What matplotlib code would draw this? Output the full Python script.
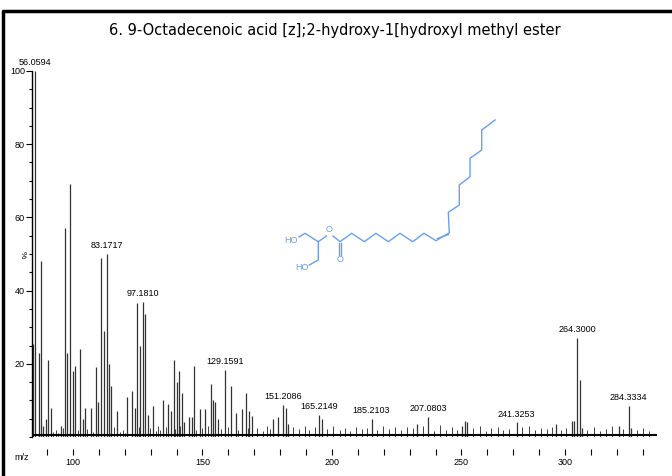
import matplotlib
matplotlib.use("Agg")
import matplotlib.pyplot as plt
from matplotlib.ticker import MultipleLocator

# ---- spectrum data (m/z in axis units, intensity %) ----
peak_mz = [84.7, 85.2, 86.8, 87.6, 88.4, 89.5, 90.5, 91.4, 95.3, 97.0, 97.8, 98.7,
           99.9, 100.7, 102.8, 104.0, 104.7, 106.8, 108.9, 109.8, 110.9, 112.0, 113.0,
           113.8, 114.8, 117.0, 121.0, 122.8, 123.8, 124.8, 126.0, 127.0, 127.8, 128.8,
           130.8, 134.9, 136.8, 137.8, 138.9, 140.0, 140.9, 142.0, 143.0, 144.8, 145.8,
           146.8, 148.9, 151.0, 153.2, 153.9, 154.9, 156.1, 158.9, 161.0, 162.9, 165.1,
           166.9, 168.1, 169.0, 177.1, 179.0, 181.1, 182.1, 183.1, 195.1, 196.1, 215.3,
           233.0, 237.2, 250.3, 251.2, 252.1, 271.3, 286.5, 292.7, 293.6, 294.6, 295.6,
           296.5, 310.7, 314.6, 315.6]
peak_int = [25.5, 100, 23, 48, 3, 5, 21, 8, 3, 57, 23, 69,
            18, 19.5, 24, 5, 8, 8, 19, 9.5, 49, 29, 50,
            20, 14, 7, 11, 12.5, 8, 36.5, 25, 37, 33.5, 6,
            8.5, 10, 9, 7, 21, 15, 18, 12, 4, 5.5, 5.5,
            19.5, 7.6, 7.7, 14.4, 10, 9.5, 5, 18.3, 14, 6.5, 7.7,
            12, 7, 5.8, 5, 5.5, 8.7, 8, 3.6, 6, 5, 5,
            3.5, 5.5, 3, 4.4, 4, 4, 3.5, 4.4, 4.4, 27.1, 15.6,
            2.5, 3, 8.5, 2.5]

# small baseline peaks
noise_mz = [92.5, 93.6, 94.2, 96.1, 101.8, 105.6, 107.7, 115.9, 118.3, 119.2, 120.1,
            125.6, 129.7, 131.9, 132.8, 133.7, 135.8, 139.5, 141.5, 147.6, 149.9, 152.1,
            157.2, 160.0, 163.8, 167.5, 171.0, 173.2, 175.0, 176.2, 185.0, 187.2, 189.5,
            191.0, 193.3, 198.0, 200.5, 203.0, 205.2, 207.1, 209.4, 211.5, 213.6, 217.4,
            219.8, 222.0, 224.5, 226.7, 229.0, 231.2, 235.0, 239.5, 241.8, 244.0, 246.5,
            248.2, 254.5, 257.0, 259.3, 261.6, 264.0, 266.2, 268.5, 273.5, 276.0, 278.4,
            280.6, 283.0, 285.0, 288.4, 290.5, 298.5, 301.0, 303.4, 305.8, 308.0, 312.5,
            317.8, 320.0, 322.4]
noise_int = [1.5, 2, 1.2, 2.5, 1.8, 2.2, 1.5, 2.6, 1.4, 2, 1.2,
             2.8, 2.4, 1.6, 3, 1.8, 2.6, 2.2, 3, 2, 2.5, 3,
             2.2, 2.8, 1.9, 2.5, 2.4, 1.6, 2.9, 2.2, 2.7, 2.1, 3,
             1.8, 2.6, 2.3, 2.9, 2, 2.5, 1.7, 2.8, 2.2, 2.4, 1.9,
             3, 2.1, 2.6, 1.8, 2.7, 2.4, 2.9, 1.7, 3.2, 2, 2.6,
             1.8, 2.5, 2.9, 1.6, 2.4, 2.7, 1.9, 2.2, 2.6, 3, 1.8,
             2.4, 2.1, 2.8, 1.9, 2.5, 2, 2.6, 1.7, 2.3, 2.9, 2.1,
             1.8, 2.4, 1.6]

label_mz = [85.2, 113.0, 127.0, 158.9, 181.1, 195.1, 215.3, 237.2, 271.3, 294.6, 314.6]
label_int = [100, 50, 37, 18.3, 8.7, 6, 5, 5.5, 4, 27.1, 8.5]
label_txt = ["56.0594", "83.1717", "97.1810", "129.1591", "151.2086", "165.2149",
             "185.2103", "207.0803", "241.3253", "264.3000", "284.3334"]

tick_pos = [100, 150, 200, 250, 290]
tick_lab = ["100", "150", "200", "250", "300"]

W, H = 672, 476
fig = plt.figure(figsize=(W / 100, H / 100), dpi=100)
fnt = "Liberation Sans"

fig.text(335 / W, 1 - 30 / H, "6. 9-Octadecenoic acid [z];2-hydroxy-1[hydroxyl methyl ester",
         ha="center", va="center", fontsize=10.5, family="DejaVu Sans")

ax = fig.add_axes([32 / W, (H - 437) / H, 625 / W, 366 / H])
ax.vlines(noise_mz, 0, noise_int, color="#222222", lw=0.6)
ax.vlines(peak_mz, 0, peak_int, color="#333333", lw=0.9)
ax.axhline(0.5, color="black", lw=1.5)
for m, v, t in zip(label_mz, label_int, label_txt):
    ax.text(m, v + 1, t, ha="center", va="bottom", fontsize=6.5, family=fnt)

ax.set_xlim(84.2, 325.5)
ax.set_ylim(0, 100)
for s in ["top", "right", "bottom"]:
    ax.spines[s].set_visible(False)
ax.spines["bottom"].set_position(("outward", 11))
ax.spines["left"].set_linewidth(1.0)
ax.set_xticks(tick_pos)
ax.set_xticklabels(tick_lab, fontsize=6.5, family=fnt)
ax.xaxis.set_minor_locator(MultipleLocator(10))
ax.tick_params(axis="x", which="both", direction="inout", length=4, width=0.8, pad=2)
ax.set_yticks([20, 40, 60, 80, 100])
ax.set_yticklabels(["20", "40", "60", "80", "100"], fontsize=6.5, family=fnt)
ax.yaxis.set_minor_locator(MultipleLocator(5))
ax.tick_params(axis="y", which="major", length=4, width=0.8, pad=1)
ax.tick_params(axis="y", which="minor", length=2, width=0.8)

# overlay in figure pixel coordinates: frame, labels and structure
frame = fig.add_axes([0, 0, 1, 1], zorder=5)
frame.patch.set_alpha(0)
frame.set_xlim(0, W)
frame.set_ylim(H, 0)
frame.axis("off")
frame.plot([3, 3, W + 5], [H + 5, 11, 11], color="black", lw=2.5)

frame.text(22, 458, "m/z", fontsize=6.5, family=fnt, ha="center", va="center")
frame.text(22, 255, "%", fontsize=6, family=fnt, ha="center", va="center", rotation=-90)

blue = "#6d9eea"
frame.plot([299, 305, 318.3, 326.5], [237, 233.3, 241.7, 236], color=blue, lw=1)
frame.plot([318.3, 318.3, 309.3], [241.7, 260, 265], color=blue, lw=1)
acyl_x = [333, 340, 351.7, 364.3, 376, 388.3, 400, 412.7, 424, 436, 449.3, 448.3,
          459.3, 459.3, 470, 470, 481.7, 481.7, 495]
acyl_y = [236, 241.7, 233.3, 241.7, 233.3, 241.7, 233.3, 241.7, 233.3, 240.7, 232.7, 212.3,
          205, 185, 176.7, 158.3, 150, 130, 120]
frame.plot(acyl_x, acyl_y, color=blue, lw=1)
frame.plot([338.8, 338.8], [243, 255], color=blue, lw=1)
frame.plot([341.2, 341.2], [243, 255], color=blue, lw=1)
frame.plot([437.5, 448.5], [238.5, 234.5], color=blue, lw=1)
frame.text(291, 240.5, "HO", color=blue, fontsize=6.5, family=fnt, ha="center", va="center")
frame.text(302, 268, "HO", color=blue, fontsize=6.5, family=fnt, ha="center", va="center")
frame.text(329.5, 229, "O", color=blue, fontsize=6.5, family=fnt, ha="center", va="center")
frame.text(340.5, 259.5, "O", color=blue, fontsize=6.5, family=fnt, ha="center", va="center")

fig.savefig("out.png", dpi=100, facecolor="white")
